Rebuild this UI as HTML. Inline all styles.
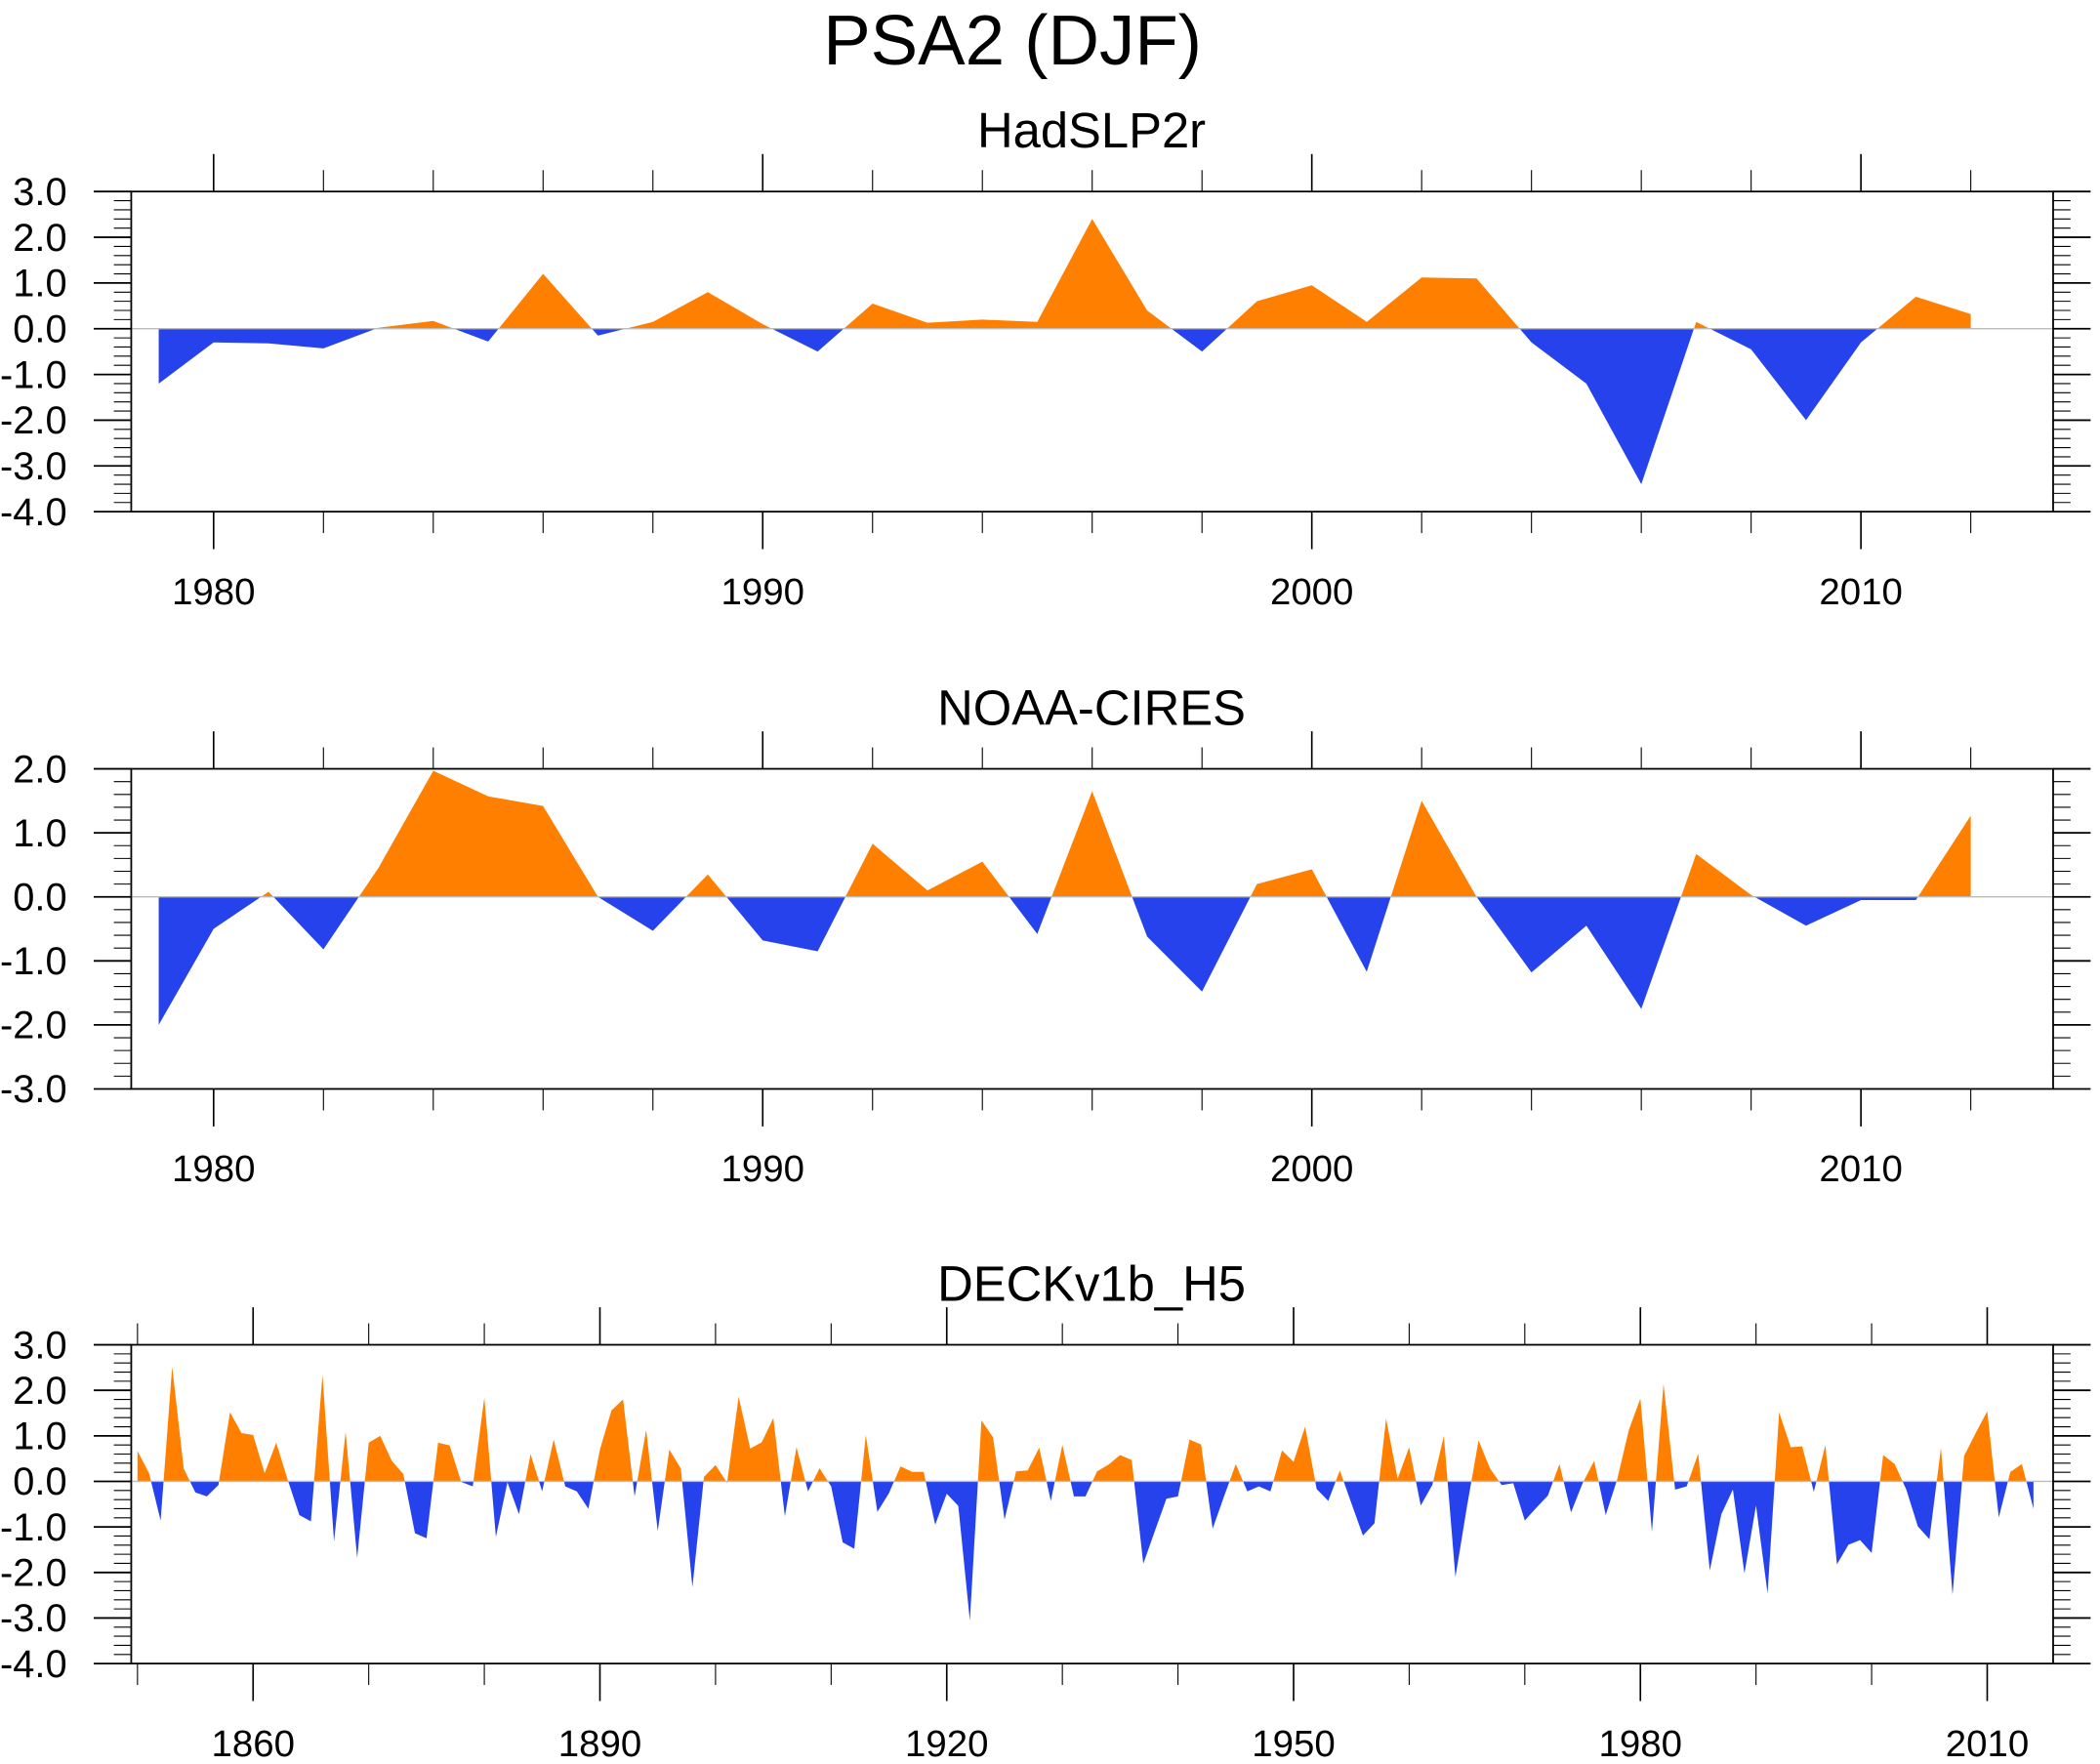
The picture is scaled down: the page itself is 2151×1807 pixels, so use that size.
<!DOCTYPE html>
<html><head><meta charset="utf-8"><style>
html,body{margin:0;padding:0;background:#fff;}
svg{display:block;font-family:"Liberation Sans",Arial,sans-serif;}
</style></head><body>
<svg id="chart" width="2151" height="1807" viewBox="0 0 1568 1317" preserveAspectRatio="none" xmlns="http://www.w3.org/2000/svg">
<text x="756" y="48" font-size="53" text-anchor="middle">PSA2 (DJF)</text>
</svg>
<script>
const hadYears = [1979,2012];
const hadValues = [-1.2,-0.3,-0.32,-0.43,0.02,0.17,-0.28,1.2,-0.15,0.15,0.8,0.1,-0.5,0.55,0.13,0.2,0.15,2.4,0.4,-0.5,0.6,0.95,0.15,1.12,1.1,-0.3,-1.2,-3.4,0.15,-0.45,-2.0,-0.3,0.7,0.32];
const noaaValues = [-2.0,-0.5,0.08,-0.82,0.45,1.97,1.57,1.42,0.0,-0.53,0.35,-0.68,-0.85,0.83,0.1,0.55,-0.58,1.65,-0.62,-1.48,0.2,0.43,-1.17,1.5,0.0,-1.18,-0.45,-1.75,0.67,0.03,-0.45,-0.05,-0.05,1.27];
const deckStart = 1850;
const deckValues = [0.67,0.18,-0.86,2.52,0.28,-0.24,-0.33,-0.08,1.52,1.06,
1.02,0.18,0.85,0.03,-0.74,-0.88,2.34,-1.32,1.09,-1.68,
0.85,1.0,0.45,0.16,-1.14,-1.25,0.85,0.79,-0.01,-0.11,
1.84,-1.22,-0.02,-0.72,0.6,-0.22,0.92,-0.11,-0.22,-0.6,
0.7,1.56,1.8,-0.33,1.13,-1.09,0.7,0.28,-2.32,0.1,
0.36,-0.03,1.86,0.72,0.86,1.39,-0.77,0.75,-0.22,0.29,
-0.11,-1.34,-1.48,1.02,-0.67,-0.26,0.33,0.21,0.21,-0.95,
-0.27,-0.54,-3.06,1.34,0.97,-0.84,0.22,0.24,0.74,-0.43,
0.8,-0.33,-0.33,0.22,0.37,0.58,0.47,-1.81,-1.09,-0.38,
-0.33,0.92,0.81,-1.04,-0.32,0.38,-0.22,-0.11,-0.22,0.68,
0.43,1.2,-0.17,-0.43,0.24,-0.48,-1.19,-0.92,1.38,0.06,
0.75,-0.53,-0.08,1.0,-2.1,-0.55,0.9,0.28,-0.08,-0.04,
-0.86,-0.58,-0.31,0.38,-0.68,-0.04,0.45,-0.74,0.05,1.13,
1.82,-1.11,2.14,-0.18,-0.11,0.61,-1.96,-0.72,-0.18,-2.02,
-0.53,-2.46,1.52,0.75,0.77,-0.23,0.8,-1.82,-1.39,-1.29,
-1.57,0.58,0.38,-0.18,-0.99,-1.27,0.74,-2.49,0.56,1.06,
1.54,-0.79,0.21,0.38,-0.6];
const yTicks1 = ["3.0","2.0","1.0","0.0","-1.0","-2.0","-3.0","-4.0"];
const yTicks2 = ["2.0","1.0","0.0","-1.0","-2.0","-3.0"];
const xLabels1 = [1980,1990,2000,2010];
const xLabels3 = [1860,1890,1920,1950,1980,2010];

const NS="http://www.w3.org/2000/svg";
const svg=document.getElementById('chart');
function mk(tag,attrs,parent){const e=document.createElementNS(NS,tag);for(const k in attrs)e.setAttribute(k,attrs[k]);(parent||svg).appendChild(e);return e;}

function panel(cfg){
  const g=mk('g',{});
  
  
  const L=98,R=1533,T=cfg.top,B=cfg.bottom;
  const sx=v=>L+(v-cfg.xmin)/(cfg.xmax-cfg.xmin)*(R-L);
  const sy=v=>T+(cfg.ymax-v)/(cfg.ymax-cfg.ymin)*(B-T);
  const t=mk('text',{x:815,y:cfg.top-33,'font-size':37,'text-anchor':'middle'},g);
  t.textContent=cfg.title;
  
  
  const z=sy(0);
  let d='M'+sx(cfg.years[0])+','+z;
  cfg.values.forEach((v,i)=>{d+=' L'+sx(cfg.years[i])+','+sy(v);});
  d+=' L'+sx(cfg.years[cfg.years.length-1])+','+z+' Z';
  const id=cfg.name;
  const defs=mk('defs',{},g);
  const c1=mk('clipPath',{id:id+'-up'},defs);mk('rect',{x:L,y:T,width:R-L,height:z-T},c1);
  const c2=mk('clipPath',{id:id+'-dn'},defs);mk('rect',{x:L,y:z,width:R-L,height:B-z},c2);
  const a1=mk('path',{d:d,fill:'#FF8000','clip-path':'url(#'+id+'-up)'},g);
  
  
  const a2=mk('path',{d:d,fill:'#2642EC','clip-path':'url(#'+id+'-dn)'},g);
  
  
  mk('line',{x1:L,x2:R,y1:z,y2:z,stroke:'#bbb','stroke-width':1},g);
  const box=mk('rect',{x:L,y:T,width:R-L,height:B-T,fill:'none',stroke:'#000','stroke-width':1.3},g);
  
  
  for(let v=cfg.ymin;v<=cfg.ymax+1e-9;v+=0.2){
    const vv=Math.round(v*10)/10, y=sy(vv), major=Math.abs(vv-Math.round(vv))<1e-6;
    const len=major?28:13;
    mk('line',{x1:L-len,x2:L,y1:y,y2:y,stroke:'#000','stroke-width':major?1.3:0.8},g);
    mk('line',{x1:R,x2:R+len,y1:y,y2:y,stroke:'#000','stroke-width':major?1.3:0.8},g);
  }
  cfg.yLabels.forEach(s=>{
    const tl=mk('text',{x:50,y:sy(parseFloat(s))+10,'font-size':29,'text-anchor':'end'},g);
    tl.textContent=s;
    
    
  });
  for(let yr=cfg.tickStart;yr<=cfg.xmax;yr+=cfg.minorStep){
    const major=cfg.xLabels.indexOf(yr)>=0, x=sx(yr), len=major?28:16;
    mk('line',{x1:x,x2:x,y1:T-len,y2:T,stroke:'#000','stroke-width':major?1.2:0.8},g);
    mk('line',{x1:x,x2:x,y1:B,y2:B+len,stroke:'#000','stroke-width':major?1.2:0.8},g);
  }
  cfg.xLabels.forEach(yr=>{
    const tl=mk('text',{x:sx(yr),y:B+69,'font-size':28,'text-anchor':'middle'},g);
    tl.textContent=String(yr);
    
    
  });
}
const yrs1=[];for(let y=hadYears[0];y<=hadYears[1];y++)yrs1.push(y);
const yrs3=deckValues.map((v,i)=>deckStart+i);
panel({name:'hadslp2r-panel',title:'HadSLP2r',top:143,bottom:382,ymax:3,ymin:-4,xmin:1978.5,xmax:2013.5,years:yrs1,values:hadValues,yLabels:yTicks1,xLabels:xLabels1,tickStart:1980,minorStep:2});
panel({name:'noaa-cires-panel',title:'NOAA-CIRES',top:574,bottom:813,ymax:2,ymin:-3,xmin:1978.5,xmax:2013.5,years:yrs1,values:noaaValues,yLabels:yTicks2,xLabels:xLabels1,tickStart:1980,minorStep:2});
panel({name:'deckv1b-h5-panel',title:'DECKv1b_H5',top:1004,bottom:1242,ymax:3,ymin:-4,xmin:1849.46,xmax:2015.7,years:yrs3,values:deckValues,yLabels:yTicks1,xLabels:xLabels3,tickStart:1850,minorStep:10});
</script>
</body></html>
